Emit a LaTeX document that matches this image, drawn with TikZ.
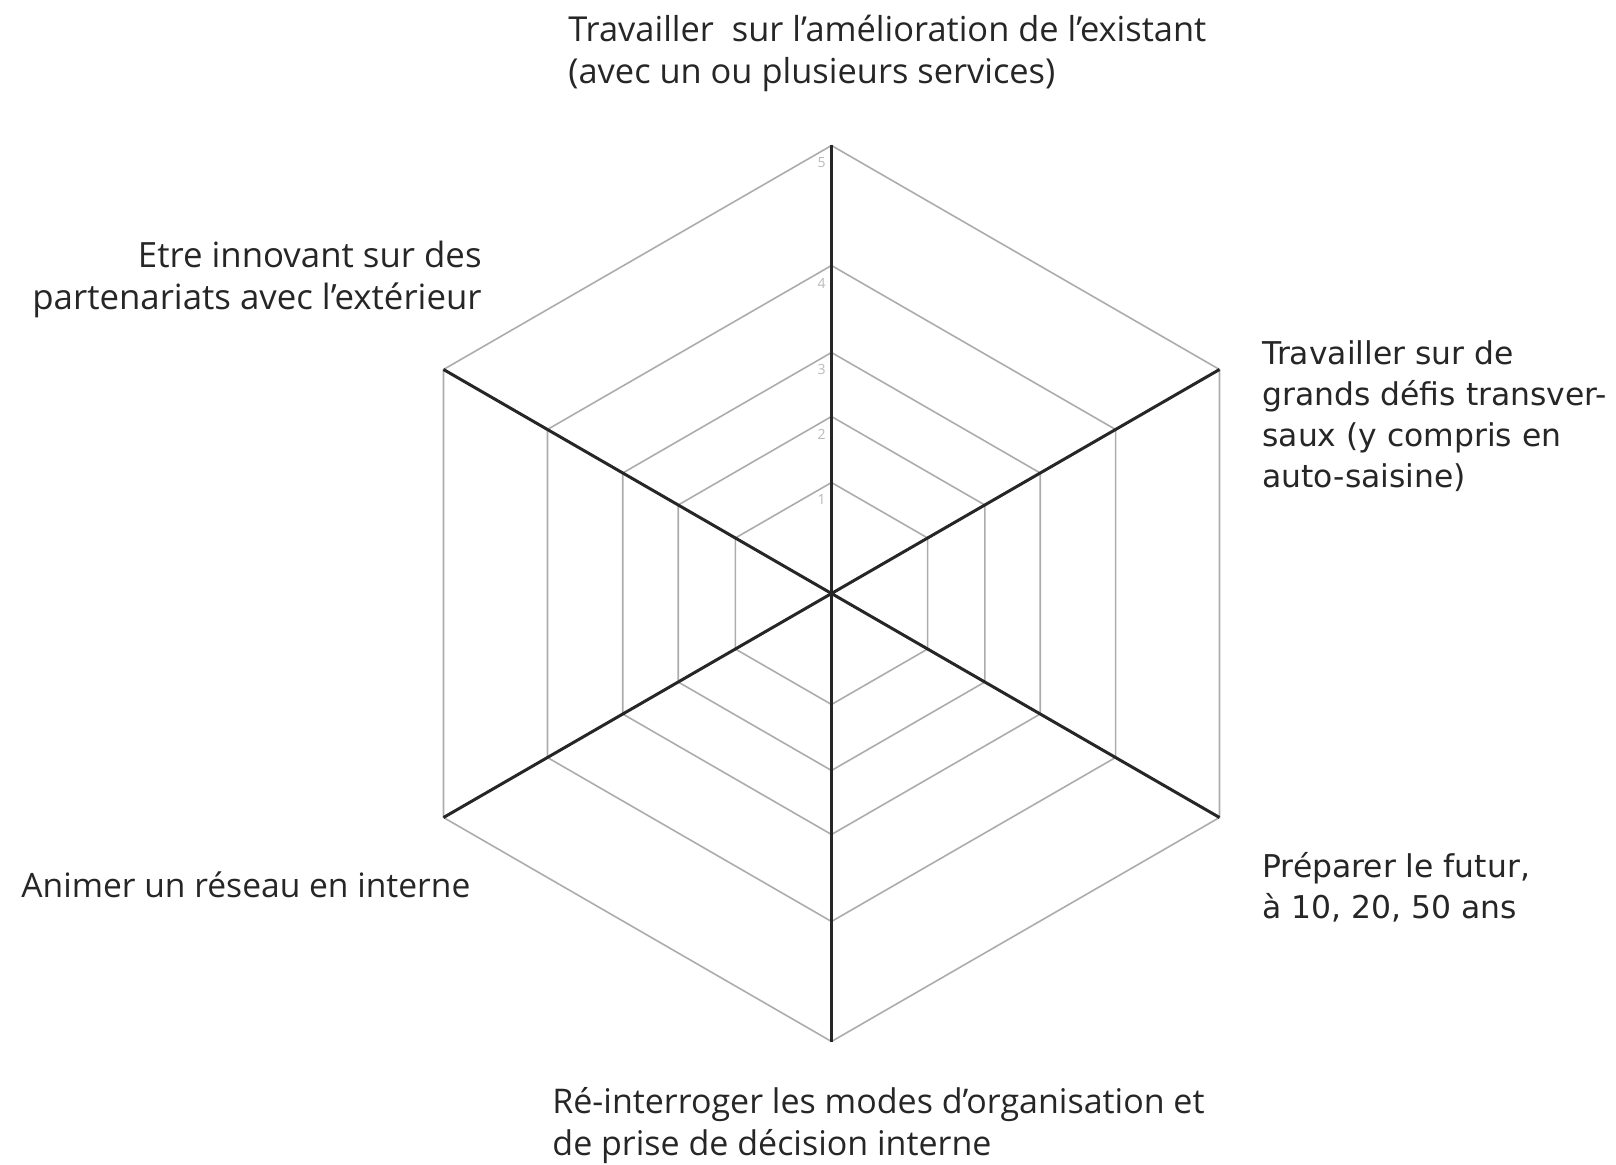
\documentclass[tikz,border=0pt]{standalone}
\usepackage{fontspec}
\setmainfont{Open Sans}
\newfontfamily\dejavu{DejaVu Sans}
\tikzset{
  gridline/.style={gray!65, line width=0.8pt, line join=round},
  axisline/.style={black!85, line width=1.5pt},
  ticklabel/.style={gray!55, font=\fontsize{7}{8}\selectfont, inner sep=0pt, anchor=east},
  label/.style={black!85, inner sep=0pt, font=\fontsize{17.2}{21}\selectfont},
  sidelabel/.style={label, font=\dejavu\fontsize{15.7}{20.6}\selectfont}
}
\begin{document}
\begin{tikzpicture}[x=0.5pt, y=0.5pt]
\useasboundingbox (0,0) rectangle (1616,1164);
\coordinate (c) at (831.5,570.5);

% Grid
\foreach \r in {111,177,241,328,448}
  \draw[gridline, shift={(c)}] (90:\r) -- (30:\r) -- (-30:\r) -- (-90:\r)
    -- (-150:\r) -- (150:\r) -- cycle;

% Axes
\foreach \a in {90,30,-30,-90,-150,150}
  \draw[axisline] (c) -- ++(\a:448);

% Scale
\foreach \r/\t in {111/1,177/2,241/3,328/4,448/5}
  \node[ticklabel] (tick\t) at (826,553+\r) {\t};

% Labels
\node[label, anchor=west, align=left] (existant) at (568,1110.5)
  {Travailler\ \ sur l’amélioration de l’existant\\(avec un ou plusieurs services)};
\node[sidelabel, anchor=west, align=left] (defis) at (1262,748)
  {Travailler sur de\\grands défis transver-\\saux (y compris en\\auto-saisine)};
\node[sidelabel, anchor=west, align=left] (futur) at (1262,276.5)
  {Préparer le futur,\\à 10, 20, 50 ans};
\node[label, anchor=west, align=left, font=\fontsize{17}{21}\selectfont] (organisation) at (552,38.5)
  {Ré-interroger les modes d’organisation et\\de prise de décision interne};
\node[label, anchor=west, font=\fontsize{16.8}{21}\selectfont] (reseau) at (21,279)
  {Animer un réseau en interne};
\node[label, anchor=east, align=right, font=\fontsize{17.4}{21}\selectfont] (partenariats) at (482,884.5)
  {Etre innovant sur des\\partenariats avec l’extérieur};
\end{tikzpicture}
\end{document}
